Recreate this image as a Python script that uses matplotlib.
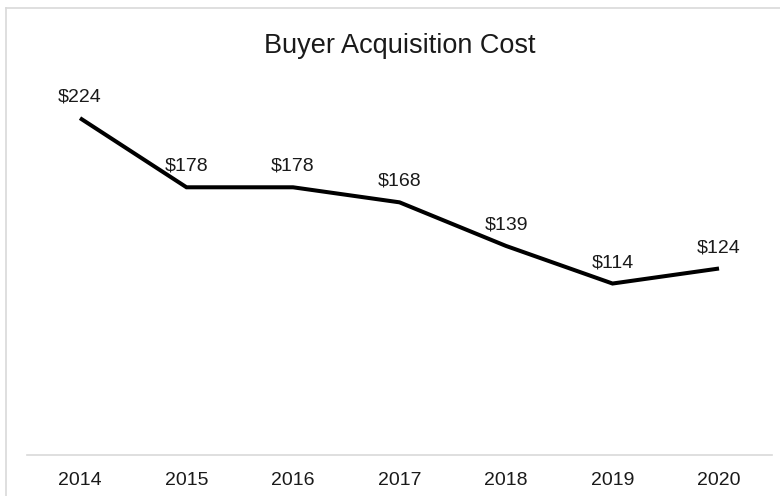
import matplotlib
matplotlib.use('Agg')
import matplotlib.pyplot as plt
from matplotlib.lines import Line2D

# Datos del gráfico
years = ['2014', '2015', '2016', '2017', '2018', '2019', '2020']
cost = [224, 178, 178, 168, 139, 114, 124]

plt.rcParams['font.family'] = ['Liberation Sans', 'DejaVu Sans']

fig = plt.figure(figsize=(7.8, 4.96), dpi=100)
ax = fig.add_axes([0.0343, 0.0827, 0.9558, 0.758])

x = list(range(len(years)))
ax.plot(x, cost, color='black', linewidth=2.9, solid_capstyle='butt', solid_joinstyle='miter')

for xi, v in zip(x, cost):
    ax.annotate(f"${v}", (xi, v), xytext=(0, 15), textcoords='offset points',
                ha='center', va='center', fontsize=14, color='#1a1a1a')

ax.set_xlim(-0.5, len(years) - 0.5)
ax.set_ylim(0, 250)
ax.set_xticks(x)
ax.set_xticklabels(years, fontsize=14, color='#1a1a1a')
ax.tick_params(axis='x', length=0, pad=12)
ax.set_yticks([])
for s in ['top', 'right', 'left']:
    ax.spines[s].set_visible(False)
ax.spines['bottom'].set_color('#d9d9d9')
ax.spines['bottom'].set_linewidth(1.2)

fig.text(0.513, 0.907, 'Buyer Acquisition Cost', ha='center', va='center',
         fontsize=19.5, color='#1a1a1a')

# Borde del gráfico
fig.add_artist(Line2D([6 / 780, 6 / 780], [0, 1 - 8 / 496], transform=fig.transFigure,
                      color='#d9d9d9', linewidth=1.2))
fig.add_artist(Line2D([6 / 780, 1], [1 - 8 / 496, 1 - 8 / 496], transform=fig.transFigure,
                      color='#d9d9d9', linewidth=1.2))

fig.savefig('out.png', dpi=100)
